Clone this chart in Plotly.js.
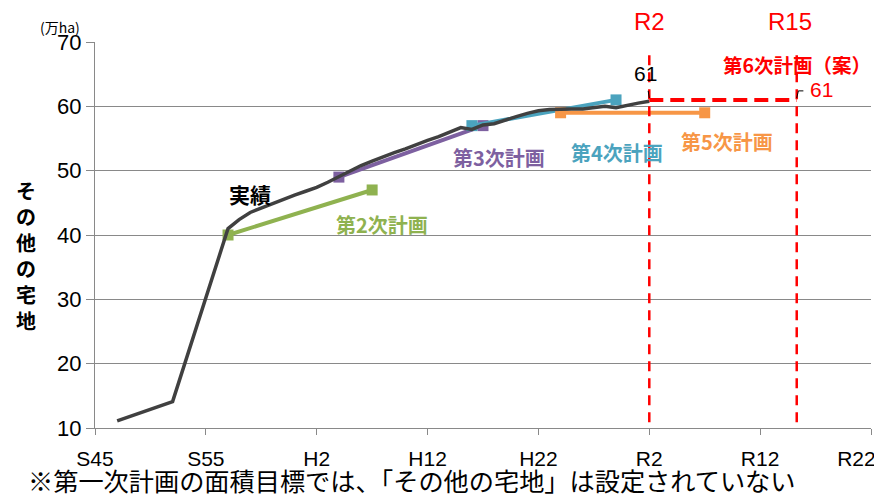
<!DOCTYPE html>
<html>
<head>
<meta charset="utf-8">
<script src="https://cdn.plot.ly/plotly-3.0.1.min.js"></script>
<style>html,body{margin:0;padding:0;background:#fff;}#chart{width:874px;height:498px;}</style>
</head>
<body>
<div id="chart"></div>
<script>
// ---- data ----
const actualYears = [1972,1977,1982,1983,1984,1985,1986,1987,1988,1989,1990,1991,1992,1993,1994,1995,1996,1997,1998,1999,2000,2001,2002,2003,2004,2005,2006,2007,2008,2009,2010,2011,2012,2013,2014,2015,2016,2017,2018,2019,2020];
const actualValues = [11.1,14.1,41.0,42.4,43.5,44.2,44.9,45.6,46.2,46.8,47.4,48.2,49.1,50.0,50.8,51.5,52.2,52.8,53.4,54.1,54.7,55.3,56.0,56.7,56.4,57.1,57.3,57.9,58.4,58.9,59.3,59.5,59.6,59.6,59.6,59.8,60.0,59.8,60.2,60.5,60.8];

const plan2Years = [1982, 1995];  const plan2Values = [40, 47];
const plan3Years = [1992, 2005];  const plan3Values = [49, 57];
const plan4Years = [2004, 2017];  const plan4Values = [57, 61];
const plan5Years = [2012, 2025];  const plan5Values = [59, 59];
const plan6Years = [2020, 2033.3]; const plan6Values = [61, 61];

const tickYears = [1970,1980,1990,2000,2010,2020,2030,2040];
const tickLabels = ["S45","S55","H2","H12","H22","R2","R12","R22"];
const yTicks = [10,20,30,40,50,60,70];

const markerYears = ["R2","R15"];

// ---- styles ----
const JP = '"Noto Sans CJK JP", "Noto Sans", sans-serif';
const NUM = '"Liberation Sans", Arial, sans-serif';
const cGreen = '#8FB250', cPurple = '#7D60A0', cTeal = '#4BA3BE', cOrange = '#F79646', cBlack = '#404040', cRed = '#FF0000';

function planTrace(x, y, color) {
  return {x: x, y: y, type: 'scatter', mode: 'lines+markers',
    line: {color: color, width: 4},
    marker: {symbol: 'square', size: 11, color: color},
    hoverinfo: 'skip', showlegend: false, cliponaxis: false};
}

const traces = [
  planTrace(plan2Years, plan2Values, cGreen),
  planTrace(plan3Years, plan3Values, cPurple),
  planTrace(plan4Years, plan4Values, cTeal),
  planTrace(plan5Years, plan5Values, cOrange),
  {x: actualYears, y: actualValues, type: 'scatter', mode: 'lines',
   line: {color: cBlack, width: 3.5}, showlegend: false, hoverinfo: 'skip'},
  {x: plan6Years, y: plan6Values, type: 'scatter', mode: 'lines',
   line: {color: cRed, width: 4, dash: '14px,7px'}, showlegend: false, hoverinfo: 'skip'}
];

const shapes = plan6Years.map(function (yr) {
  return {type: 'line', xref: 'x', yref: 'y', x0: yr, x1: yr, y0: 10.9, y1: 68.5,
    line: {color: cRed, width: 2.5, dash: '10px,7px'}};
});
// small leader lines for the value labels
shapes.push({type: 'path', xref: 'x', yref: 'y',
  path: 'M ' + (plan6Years[1]) + ' 61.3 L ' + (plan6Years[1] + 0.15) + ' 62.4 L ' + (plan6Years[1] + 0.6) + ' 62.4',
  line: {color: '#000', width: 1}});
shapes.push({type: 'path', xref: 'x', yref: 'y',
  path: 'M ' + plan6Years[0] + ' 61.3 L ' + (plan6Years[0] - 0.1) + ' 62.4',
  line: {color: '#000', width: 1}});

function txt(text, x, y, color, size) {
  return {text: text, x: x, y: y, xref: 'x', yref: 'y', showarrow: false,
    xanchor: 'center', yanchor: 'middle',
    font: {family: JP, size: size, color: color, weight: 'bold'}};
}
function ptxt(text, x, y, font, xanchor) {
  return {text: text, x: x, y: y, xref: 'paper', yref: 'paper', showarrow: false,
    xanchor: xanchor || 'center', yanchor: 'middle', font: font};
}

const annotations = [
  txt('実績', 1984.0, 46.4, '#000', 21),
  txt('第2次計画', 1995.9, 41.6, cGreen, 20),
  txt('第3次計画', 2006.4, 52.1, cPurple, 20),
  txt('第4次計画', 2017.1, 52.9, cTeal, 20),
  txt('第5次計画', 2027.0, 54.6, cOrange, 20),
  txt('第6次計画（案）', 2033.3, 66.5, cRed, 19.5),
  {text: String(plan6Values[1]), x: 2035.5, y: 62.6, xref: 'x', yref: 'y', showarrow: false,
   xanchor: 'center', yanchor: 'middle', font: {family: NUM, size: 21, color: cRed}},
  {text: String(plan6Values[0]), x: 2019.7, y: 65.1, xref: 'x', yref: 'y', showarrow: false,
   xanchor: 'center', yanchor: 'middle', font: {family: NUM, size: 21, color: '#000'}},
  {text: markerYears[0], x: plan6Years[0], y: 1.052, xref: 'x', yref: 'paper', showarrow: false,
   xanchor: 'center', yanchor: 'middle', font: {family: NUM, size: 24, color: cRed}},
  {text: markerYears[1], x: 2032.7, y: 1.052, xref: 'x', yref: 'paper', showarrow: false,
   xanchor: 'center', yanchor: 'middle', font: {family: NUM, size: 24, color: cRed}},
  ptxt('(万ha)', -0.0451, 1.0396, {family: JP, size: 14, color: '#000'}),
  ptxt('その他の宅地'.split('').join('<br>'), -0.0889, 0.4456,
       {family: JP, size: 20, color: '#000', weight: 'bold'}),
  ptxt('※第一次計画の面積目標では、「その他の宅地」は設定されていない', -0.0895, -0.134,
       {family: JP, size: 25.2, color: '#000'}, 'left')
];

// keep the last tick label inside the picture, as in the reference
const tickText = tickLabels.map(function (t, i) {
  return i === tickLabels.length - 1 ? t + '\u00a0\u00a0\u00a0\u00a0\u00a0' : t;
});

const layout = {
  width: 874, height: 498,
  margin: {l: 95, r: 3, t: 42, b: 70, pad: 0},
  paper_bgcolor: '#fff', plot_bgcolor: '#fff',
  showlegend: false,
  xaxis: {range: [1970, 2040], tickvals: tickYears, ticktext: tickText,
    showgrid: false, zeroline: false, showline: true, linecolor: '#898989', linewidth: 1,
    ticks: 'outside', ticklen: 6, tickcolor: '#898989', tickwidth: 1,
    ticklabelstandoff: 6, ticklabeloverflow: 'allow',
    tickfont: {family: NUM, size: 21, color: '#000'}, fixedrange: true},
  yaxis: {range: [10, 70], tickvals: yTicks,
    showgrid: true, gridcolor: '#898989', gridwidth: 1, zeroline: false,
    showline: true, linecolor: '#898989', linewidth: 1,
    ticks: 'outside', ticklen: 8, tickcolor: '#898989', tickwidth: 1,
    tickfont: {family: NUM, size: 22, color: '#000'}, fixedrange: true},
  shapes: shapes,
  annotations: annotations
};

Plotly.newPlot('chart', traces, layout, {staticPlot: true, displayModeBar: false});
</script>
</body>
</html>
